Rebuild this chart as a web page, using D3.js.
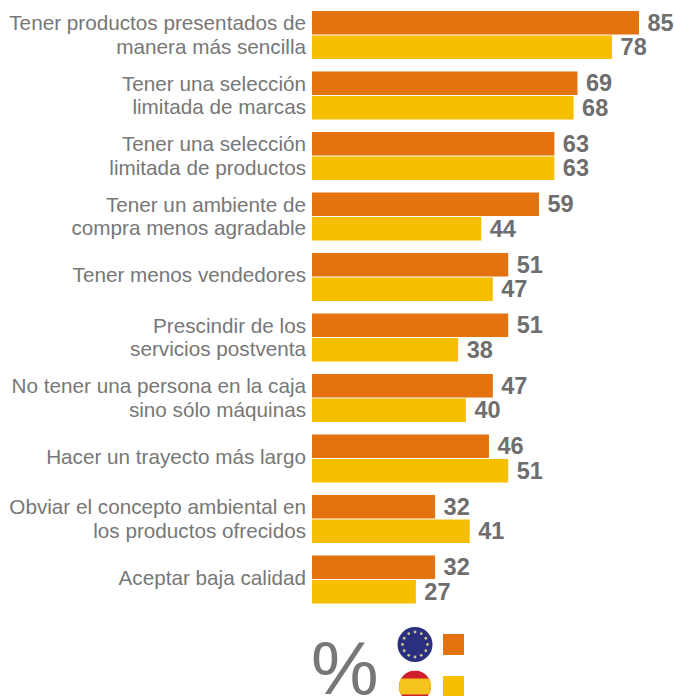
<!DOCTYPE html>
<html lang="es">
<head>
<meta charset="utf-8">
<script src="https://cdn.jsdelivr.net/npm/d3@7"></script>
<style>
html,body{margin:0;padding:0;background:#fff;overflow:hidden;}
svg{display:block;}
text{font-family:"Liberation Sans",Arial,sans-serif;}
</style>
</head>
<body>
<svg id="chart" width="674" height="696"></svg>
<script>
// Motivos para comprar en un establecimiento de descuento (%)
const categories = [
  ["Tener productos presentados de", "manera más sencilla"],
  ["Tener una selección", "limitada de marcas"],
  ["Tener una selección", "limitada de productos"],
  ["Tener un ambiente de", "compra menos agradable"],
  ["Tener menos vendedores"],
  ["Prescindir de los", "servicios postventa"],
  ["No tener una persona en la caja", "sino sólo máquinas"],
  ["Hacer un trayecto más largo"],
  ["Obviar el concepto ambiental en", "los productos ofrecidos"],
  ["Aceptar baja calidad"]
];
const euValues = [85, 69, 63, 59, 51, 51, 47, 46, 32, 32];
const esValues = [78, 68, 63, 44, 47, 38, 40, 51, 41, 27];
const seriesNames = ["eu", "es"];
const seriesColors = ["#e3720f", "#f6bf00"];

const svg = d3.select("#chart");
const labelGrey = "#777777";
const valueGrey = "#6e6e6e";

const x = d3.scaleLinear().domain([0, 85]).range([312, 639]);
const rowScale = d3.scaleBand().domain(d3.range(categories.length)).range([10.5, 615.5]);
const barScale = d3.scaleBand().domain(seriesNames).range([0, 49]).paddingInner(0.04).paddingOuter(0.02);

const rows = svg.selectAll("g.row")
  .data(categories.map((label, i) => ({label, i, values: [euValues[i], esValues[i]]})))
  .join("g")
  .attr("class", "row")
  .attr("transform", d => `translate(0,${rowScale(d.i)})`);

// Etiquetas de categoría, alineadas a la derecha
rows.append("text")
  .attr("text-anchor", "end")
  .attr("font-size", 20.7)
  .attr("fill", labelGrey)
  .selectAll("tspan")
  .data(d => d.label.map(line => ({line, n: d.label.length})))
  .join("tspan")
  .attr("x", 306)
  .attr("y", (d, i) => d.n === 1 ? 29.5 : 19.5 + i * 23.5)
  .text(d => d.line);

// Barras y valores de cada serie
seriesNames.forEach((name, s) => {
  rows.append("rect")
    .attr("x", x(0))
    .attr("y", barScale(name))
    .attr("width", d => x(d.values[s]) - x(0))
    .attr("height", barScale.bandwidth())
    .attr("fill", seriesColors[s]);
  rows.append("text")
    .attr("x", d => x(d.values[s]) + 8.5)
    .attr("y", barScale(name) + barScale.bandwidth() / 2 + 8)
    .attr("font-size", 23.5)
    .attr("font-weight", "bold")
    .attr("fill", valueGrey)
    .text(d => d.values[s]);
});

// Leyenda: signo de porcentaje, banderas y muestras de color
const legend = svg.append("g");
legend.append("text")
  .attr("x", 311).attr("y", 694)
  .attr("font-size", 76)
  .attr("fill", labelGrey)
  .text("%");

const legendRows = d3.scaleOrdinal().domain(seriesNames).range([644.5, 686.5]);
seriesNames.forEach((name, s) => {
  const cy = legendRows(name);
  legend.append("rect")
    .attr("x", 443).attr("y", cy - 10.5)
    .attr("width", 21).attr("height", 21)
    .attr("fill", seriesColors[s]);
});

// Bandera europea
const euY = legendRows("eu");
legend.append("circle")
  .attr("cx", 415).attr("cy", euY).attr("r", 17.5)
  .attr("fill", "#2a2f7f");
legend.append("g").selectAll("circle")
  .data(d3.range(12))
  .join("circle")
  .attr("cx", d => 415 + 12.5 * Math.cos(d * Math.PI / 6))
  .attr("cy", d => euY + 12.5 * Math.sin(d * Math.PI / 6))
  .attr("r", 1.4)
  .attr("fill", "#c9c78a");

// Bandera española, recortada en círculo
const esY = legendRows("es");
const defs = svg.append("defs");
defs.append("clipPath").attr("id", "flag-es")
  .append("circle").attr("cx", 415).attr("cy", esY).attr("r", 16);
const flag = legend.append("g").attr("clip-path", "url(#flag-es)");
flag.append("rect").attr("x", 399).attr("y", esY - 16).attr("width", 32).attr("height", 32).attr("fill", "#cf1f2d");
flag.append("rect").attr("x", 399).attr("y", esY - 8).attr("width", 32).attr("height", 16).attr("fill", "#f6c21c");
</script>
</body>
</html>
